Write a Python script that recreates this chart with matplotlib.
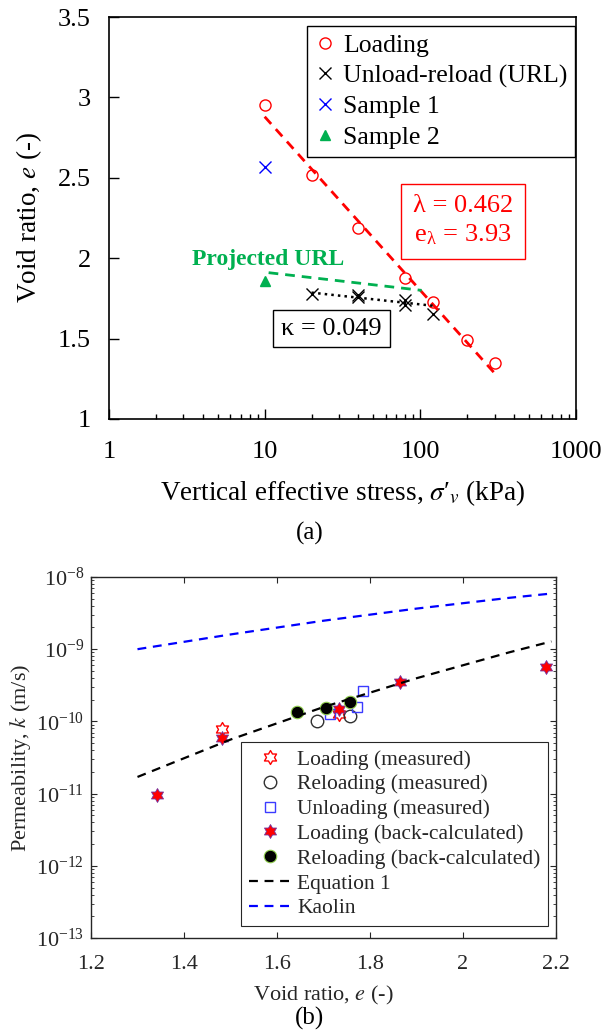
import matplotlib
matplotlib.use('Agg')
import matplotlib.pyplot as plt
from matplotlib.path import Path
from matplotlib.ticker import LogLocator, NullFormatter

plt.rcParams['font.family'] = ['Liberation Serif', 'DejaVu Serif']
plt.rcParams['mathtext.fontset'] = 'stix'

# ---- panel (a): compression data ----
load_stress = [10, 20, 40, 80, 120, 200, 300]
load_e = [2.95, 2.52, 2.19, 1.875, 1.73, 1.49, 1.35]

url_stress = [20, 40, 40, 80, 80, 120]
url_e = [1.78, 1.77, 1.76, 1.74, 1.71, 1.65]

s1_stress = [10]
s1_e = [2.57]
s2_stress = [10]
s2_e = [1.86]

fit_stress = [10, 300]
fit_e = [2.88, 1.285]
urlfit_stress = [20, 124]
urlfit_e = [1.786, 1.703]
proj_stress = [10.6, 102]
proj_e = [1.91, 1.80]

# ---- panel (b): permeability data ----
lm_e = [1.482, 1.733]
lm_k = [7.8e-11, 1.26e-10]
rm_e = [1.686, 1.758]
rm_k = [1.0e-10, 1.19e-10]
um_e = [1.784, 1.771, 1.714]
um_k = [2.6e-10, 1.6e-10, 1.25e-10]
lb_e = [1.343, 1.482, 1.733, 1.865, 2.178]
lb_k = [9.6e-12, 5.8e-11, 1.49e-10, 3.47e-10, 5.75e-10]
rb_e = [1.644, 1.705, 1.758]
rb_k = [1.34e-10, 1.55e-10, 1.84e-10]
eq_e = [1.3, 1.5, 1.7, 1.9, 2.1, 2.19]
eq_k = [1.7e-11, 5.6e-11, 1.58e-10, 3.96e-10, 9.07e-10, 1.28e-9]
kao_e = [1.3, 1.5, 1.7, 1.9, 2.1, 2.19]
kao_k = [1.0e-9, 1.6e-9, 2.48e-9, 3.65e-9, 5.15e-9, 5.9e-9]

green = '#00B050'
# six-pointed star like matlab's hexagram
hexagram = Path.unit_regular_star(6, innerCircle=0.577)

fig = plt.figure(figsize=(6.16, 10.32), dpi=100)

# %% panel (a)
ax = fig.add_axes([0.177, 0.594, 0.758, 0.3895])
ax.plot(load_stress, load_e, 'o', ms=8, mfc='none', mec='red', mew=1, label='Loading')
ax.plot(url_stress, url_e, 'x', ms=8, color='black', mew=1, label='Unload-reload (URL)')
ax.plot(s1_stress, s1_e, 'x', ms=8, color='blue', mew=1, label='Sample 1')
ax.plot(s2_stress, s2_e, '^', ms=7, color=green, label='Sample 2')
ax.plot(fit_stress, fit_e, '--', color='red', lw=2, dashes=(3.5, 2.5), label='_nolegend_')
ax.plot(urlfit_stress, urlfit_e, ':', color='black', lw=1.8, label='_nolegend_')
ax.plot(proj_stress, proj_e, '--', color=green, lw=2, dashes=(3.5, 2.5), label='_nolegend_')

ax.set_xscale('log')
ax.set_xlim(1, 1000)
ax.set_ylim(1, 3.5)
ax.set_xticks([1, 10, 100, 1000])
ax.set_xticklabels(['1', '10', '100', '1000'])
ax.xaxis.set_minor_locator(LogLocator(base=10, subs=range(2, 10)))
ax.xaxis.set_minor_formatter(NullFormatter())
ax.set_yticks([1, 1.5, 2, 2.5, 3, 3.5])
ax.set_yticklabels(['1', '1.5', '2', '2.5', '3', '3.5'])
ax.tick_params(which='major', direction='in', length=7, width=1, labelsize=19)
ax.tick_params(axis='x', which='major', pad=16)
ax.tick_params(axis='y', which='major', pad=13)
ax.tick_params(which='minor', direction='in', length=3.5, width=1)
for sp in ax.spines.values():
    sp.set_linewidth(1.2)

ax.set_xlabel("Vertical effective stress, $\\sigma$′$_{v}$ (kPa)", fontsize=19.5)
ax.set_ylabel('Void ratio, $e$ (-)', fontsize=19.5)
ax.xaxis.set_label_coords(0.5, -0.147)
ax.yaxis.set_label_coords(-0.14, 0.5)

leg = ax.legend(loc='upper right', bbox_to_anchor=(0.998, 0.978), fontsize=18.5,
                frameon=True, fancybox=False, framealpha=1, edgecolor='black',
                handlelength=0.8, handletextpad=0.3, borderpad=0.3,
                labelspacing=0.3, borderaxespad=0)
leg.get_frame().set_linewidth(1)

ax.text(0.758, 0.4925, 'λ = 0.462\ne$_{\\mathregular{λ}}$ = 3.93', transform=ax.transAxes,
        color='red', fontsize=19, ha='center', va='center', linespacing=1.25,
        bbox=dict(boxstyle='square,pad=0.45', fc='white', ec='red', lw=1))
ax.text(0.476, 0.225, 'κ = 0.049', transform=ax.transAxes,
        color='black', fontsize=19, ha='center', va='center',
        bbox=dict(boxstyle='square,pad=0.3', fc='white', ec='black', lw=1))
ax.text(0.3415, 0.398, 'Projected URL', transform=ax.transAxes, color=green,
        fontsize=17, fontweight='bold', ha='center', va='center')

fig.text(310 / 616, 1 - 533 / 1032, '(a)', fontsize=18, ha='center', va='center')

# %% panel (b)
gray = '#262626'
bx = fig.add_axes([0.1477, 0.0911, 0.755, 0.3498])
bx.plot(lm_e, lm_k, linestyle='none', marker=hexagram, ms=10, mfc='white', mec='red',
        mew=1, label='Loading (measured)')
bx.plot(rm_e, rm_k, linestyle='none', marker='o', ms=9, mfc='none', mec='#303030',
        mew=1, label='Reloading (measured)')
bx.plot(um_e, um_k, linestyle='none', marker='s', ms=7.5, mfc='none', mec='#3b3bff',
        mew=1, label='Unloading (measured)')
bx.plot(lb_e, lb_k, linestyle='none', marker=hexagram, ms=10, mfc='red', mec='#7030A0',
        mew=0.6, label='Loading (back-calculated)')
bx.plot(rb_e, rb_k, linestyle='none', marker='o', ms=9, mfc='black', mec='#92D050',
        mew=0.8, label='Reloading (back-calculated)')
bx.plot(eq_e, eq_k, '--', color='black', lw=1.6, dashes=(4, 3), label='Equation 1')
bx.plot(kao_e, kao_k, '--', color='blue', lw=1.6, dashes=(4, 3), label='Kaolin')

bx.set_yscale('log')
bx.set_xlim(1.2, 2.2)
bx.set_ylim(1e-13, 1e-8)
bx.set_xticks([1.2, 1.4, 1.6, 1.8, 2.0, 2.2])
bx.set_xticklabels(['1.2', '1.4', '1.6', '1.8', '2', '2.2'])
bx.yaxis.set_major_locator(LogLocator(base=10, numticks=10))
bx.yaxis.set_minor_locator(LogLocator(base=10, subs=range(2, 10), numticks=10))
bx.yaxis.set_minor_formatter(NullFormatter())
bx.tick_params(which='major', direction='in', length=4, width=0.8, labelsize=16,
               colors=gray, top=True, right=True, pad=5)
bx.tick_params(axis='x', which='major', pad=12)
bx.tick_params(which='minor', direction='in', length=2, width=0.6, colors=gray,
               top=True, right=True)
for sp in bx.spines.values():
    sp.set_color(gray)
    sp.set_linewidth(1)

bx.set_xlabel('Void ratio, $e$ (-)', fontsize=16, color=gray)
bx.set_ylabel('Permeability, $k$ (m/s)', fontsize=16, color=gray)
bx.xaxis.set_label_coords(0.5, -0.128)
bx.yaxis.set_label_coords(-0.125, 0.5)

leg2 = bx.legend(loc='upper left', bbox_to_anchor=(0.3226, 0.543), fontsize=15.5,
                 frameon=True, fancybox=False, framealpha=1, edgecolor=gray,
                 handlelength=2.0, handletextpad=0.25, borderpad=0.35,
                 labelspacing=0.22, borderaxespad=0)
leg2.get_frame().set_linewidth(0.8)
for t in leg2.get_texts():
    t.set_color(gray)

fig.text(310 / 616, 1 - 1018 / 1032, '(b)', fontsize=18, ha='center', va='center')

fig.savefig('out.png', dpi=100)
